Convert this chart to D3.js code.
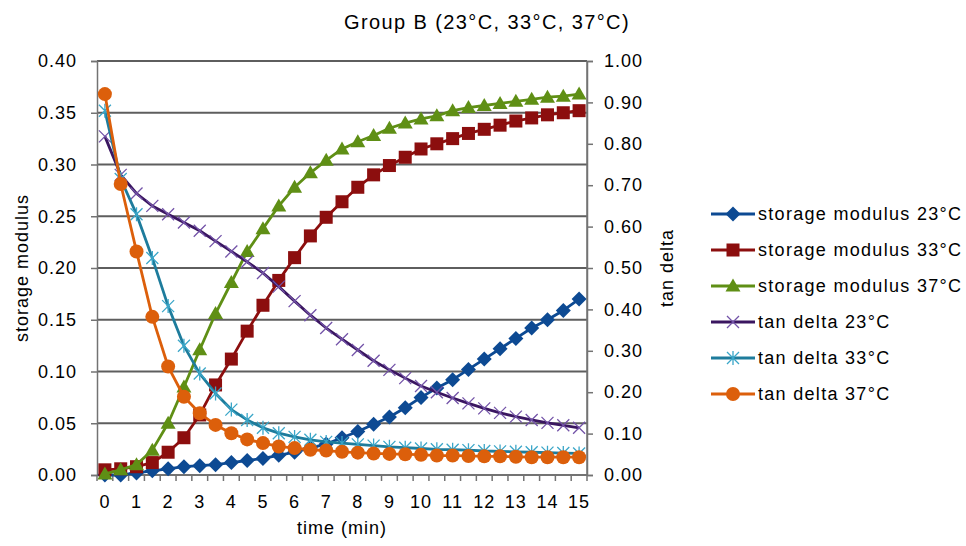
<!DOCTYPE html>
<html>
<head>
<meta charset="utf-8">
<script src="https://cdn.jsdelivr.net/npm/d3@7"></script>
<style>
  body { margin: 0; background: #fff; }
  svg text { font-family: "Liberation Sans", Arial, sans-serif; fill: #000; }
</style>
</head>
<body>
<script>
// time axis: one category every 30 s
const times = [0, 0.5, 1, 1.5, 2, 2.5, 3, 3.5, 4, 4.5, 5, 5.5, 6, 6.5, 7, 7.5,
               8, 8.5, 9, 9.5, 10, 10.5, 11, 11.5, 12, 12.5, 13, 13.5, 14, 14.5, 15];

// storage modulus (left axis)
const sm23 = [0.000, 0.000, 0.002, 0.004, 0.006, 0.008, 0.009, 0.010, 0.012, 0.014, 0.016,
              0.019, 0.022, 0.026, 0.030, 0.036, 0.042, 0.049, 0.056, 0.065, 0.075,
              0.084, 0.092, 0.102, 0.112, 0.122, 0.132, 0.142, 0.150, 0.159, 0.170];
const sm33 = [0.005, 0.006, 0.008, 0.012, 0.022, 0.036, 0.058, 0.087, 0.112, 0.139, 0.164,
              0.188, 0.210, 0.231, 0.249, 0.264, 0.278, 0.290, 0.299, 0.307, 0.315,
              0.320, 0.325, 0.330, 0.334, 0.338, 0.342, 0.345, 0.348, 0.350, 0.352];
const sm37 = [0.001, 0.005, 0.010, 0.024, 0.050, 0.085, 0.121, 0.156, 0.186, 0.216, 0.238,
              0.260, 0.278, 0.292, 0.304, 0.315, 0.322, 0.328, 0.335, 0.340, 0.344,
              0.347, 0.352, 0.355, 0.357, 0.359, 0.361, 0.363, 0.365, 0.366, 0.368];

// tan delta (right axis)
const td23 = [0.818, 0.725, 0.680, 0.650, 0.630, 0.610, 0.590, 0.565, 0.540, 0.515, 0.488,
              0.455, 0.420, 0.386, 0.355, 0.328, 0.302, 0.276, 0.254, 0.234, 0.215,
              0.200, 0.186, 0.173, 0.161, 0.150, 0.141, 0.133, 0.126, 0.120, 0.114];
const td33 = [0.880, 0.715, 0.630, 0.524, 0.408, 0.312, 0.245, 0.197, 0.158, 0.133, 0.114,
              0.101, 0.092, 0.085, 0.080, 0.077, 0.074, 0.071, 0.068, 0.066, 0.064,
              0.062, 0.061, 0.060, 0.058, 0.057, 0.056, 0.055, 0.054, 0.053, 0.052];
const td37 = [0.920, 0.703, 0.540, 0.382, 0.262, 0.189, 0.149, 0.121, 0.101, 0.086, 0.077,
              0.069, 0.065, 0.061, 0.059, 0.056, 0.054, 0.052, 0.051, 0.050, 0.049,
              0.047, 0.047, 0.046, 0.045, 0.045, 0.044, 0.043, 0.043, 0.043, 0.043];

const leftTicks = [0, 0.05, 0.10, 0.15, 0.20, 0.25, 0.30, 0.35, 0.40];
const rightTicks = [0, 0.1, 0.2, 0.3, 0.4, 0.5, 0.6, 0.7, 0.8, 0.9, 1.0];
const xLabels = [0, 1, 2, 3, 4, 5, 6, 7, 8, 9, 10, 11, 12, 13, 14, 15];

const series = [
  {name: "storage modulus 23°C", values: sm23, axis: "left",  line: "#0d4a93", fill: "#0d4a93", marker: "diamond"},
  {name: "storage modulus 33°C", values: sm33, axis: "left",  line: "#8c0e0e", fill: "#8c0e0e", marker: "square"},
  {name: "storage modulus 37°C", values: sm37, axis: "left",  line: "#5f8f15", fill: "#5f8f15", marker: "triangle"},
  {name: "tan delta 23°C",       values: td23, axis: "right", line: "#3a1660", fill: "#7353a8", marker: "x"},
  {name: "tan delta 33°C",       values: td33, axis: "right", line: "#1e7c9c", fill: "#3aa6c8", marker: "star"},
  {name: "tan delta 37°C",       values: td37, axis: "right", line: "#dc5f0b", fill: "#dc5f0b", marker: "circle"}
];

const W = 966, H = 546;
const plot = {left: 97, right: 587, top: 61, bottom: 475};

const svg = d3.select("body").append("svg")
  .attr("width", W).attr("height", H);

// scales
const idx = d3.range(times.length);
const xBand = d3.scaleBand().domain(idx).range([plot.left, plot.right]);
const x = d3.scalePoint().domain(idx).range([plot.left, plot.right]).padding(0.5);
const yL = d3.scaleLinear().domain([0, 0.40]).range([plot.bottom, plot.top]);
const yR = d3.scaleLinear().domain([0, 1.00]).range([plot.bottom, plot.top]);

const gridColor = "#5e5e5e";
const axisColor = "#737373";

// gridlines (left axis)
svg.append("g").selectAll("line").data(leftTicks).join("line")
  .attr("x1", plot.left).attr("x2", plot.right)
  .attr("y1", d => yL(d)).attr("y2", d => yL(d))
  .attr("stroke", gridColor).attr("stroke-width", 1.8);

// right border
svg.append("line")
  .attr("x1", plot.right).attr("x2", plot.right)
  .attr("y1", plot.top).attr("y2", plot.bottom)
  .attr("stroke", axisColor).attr("stroke-width", 1.5);

// left axis
const gL = svg.append("g").attr("transform", `translate(${plot.left},0)`)
  .call(d3.axisLeft(yL).tickValues(leftTicks).tickFormat(d3.format(".2f")).tickSize(6).tickPadding(14));
gL.select(".domain").attr("stroke", axisColor).attr("stroke-width", 1.5);
gL.selectAll(".tick line").attr("stroke", axisColor).attr("stroke-width", 1.5);
gL.selectAll("text").style("font-size", "18px").style("letter-spacing", "1px");

// right axis
const gR = svg.append("g").attr("transform", `translate(${plot.right},0)`)
  .call(d3.axisRight(yR).tickValues(rightTicks).tickFormat(d3.format(".2f")).tickSize(6).tickPadding(11));
gR.select(".domain").attr("stroke", axisColor).attr("stroke-width", 1.5);
gR.selectAll(".tick line").attr("stroke", axisColor).attr("stroke-width", 1.5);
gR.selectAll("text").style("font-size", "18px").style("letter-spacing", "1px");

// bottom axis: tick marks between categories, labels on whole minutes
const gB = svg.append("g");
gB.append("line")
  .attr("x1", plot.left).attr("x2", plot.right)
  .attr("y1", plot.bottom).attr("y2", plot.bottom)
  .attr("stroke", axisColor).attr("stroke-width", 1.8);
const bounds = idx.map(i => xBand(i)).concat([plot.right]);
gB.selectAll(".xt").data(bounds).join("line")
  .attr("x1", d => d).attr("x2", d => d)
  .attr("y1", plot.bottom).attr("y2", plot.bottom + 6)
  .attr("stroke", axisColor).attr("stroke-width", 1.5);
gB.selectAll(".xl").data(xLabels).join("text")
  .attr("x", d => x(times.indexOf(d)))
  .attr("y", plot.bottom + 33)
  .attr("text-anchor", "middle")
  .style("font-size", "18px").style("letter-spacing", "1px")
  .text(d => d);

// titles
svg.append("text").attr("x", 487).attr("y", 29).attr("text-anchor", "middle")
  .style("font-size", "20px").style("letter-spacing", "1.4px")
  .text("Group B (23°C, 33°C, 37°C)");
svg.append("text").attr("x", 342).attr("y", 534).attr("text-anchor", "middle")
  .style("font-size", "18px").style("letter-spacing", "1px")
  .text("time (min)");
svg.append("text").attr("transform", "translate(28,268) rotate(-90)").attr("text-anchor", "middle")
  .style("font-size", "18px").style("letter-spacing", "1px")
  .text("storage modulus");
svg.append("text").attr("transform", "translate(673,268) rotate(-90)").attr("text-anchor", "middle")
  .style("font-size", "18px").style("letter-spacing", "1px")
  .text("tan delta");

// marker drawing
function drawMarker(g, s, cx, cy) {
  if (s.marker === "diamond") {
    g.append("path").attr("d", `M${cx},${cy - 7.5}L${cx + 7.5},${cy}L${cx},${cy + 7.5}L${cx - 7.5},${cy}Z`)
      .attr("fill", s.fill);
  } else if (s.marker === "square") {
    g.append("rect").attr("x", cx - 6.5).attr("y", cy - 6.5).attr("width", 13).attr("height", 13)
      .attr("fill", s.fill);
  } else if (s.marker === "triangle") {
    g.append("path").attr("d", `M${cx},${cy - 7.5}L${cx + 7.5},${cy + 5.5}L${cx - 7.5},${cy + 5.5}Z`)
      .attr("fill", s.fill);
  } else if (s.marker === "circle") {
    g.append("circle").attr("cx", cx).attr("cy", cy).attr("r", 7).attr("fill", s.fill);
  } else if (s.marker === "x") {
    g.append("path").attr("d", `M${cx - 6},${cy - 6}L${cx + 6},${cy + 6}M${cx - 6},${cy + 6}L${cx + 6},${cy - 6}`)
      .attr("stroke", s.fill).attr("stroke-width", 1.3).attr("fill", "none");
  } else if (s.marker === "star") {
    g.append("path").attr("d", `M${cx - 6},${cy - 6}L${cx + 6},${cy + 6}M${cx - 6},${cy + 6}L${cx + 6},${cy - 6}M${cx},${cy - 7}L${cx},${cy + 7}`)
      .attr("stroke", s.fill).attr("stroke-width", 1.3).attr("fill", "none");
  }
}

// series: primary axis first, secondary on top
series.forEach(s => {
  const y = s.axis === "left" ? yL : yR;
  const g = svg.append("g");
  g.append("path")
    .datum(s.values)
    .attr("fill", "none")
    .attr("stroke", s.line)
    .attr("stroke-width", 2.8)
    .attr("stroke-linejoin", "round")
    .attr("d", d3.line().x((d, i) => x(i)).y(d => y(d)));
  s.values.forEach((v, i) => drawMarker(g, s, x(i), y(v)));
});

// legend
const legendY = [214, 250, 286, 322, 358, 394];
series.forEach((s, i) => {
  const g = svg.append("g");
  const ly = legendY[i];
  g.append("line").attr("x1", 711).attr("x2", 755).attr("y1", ly).attr("y2", ly)
    .attr("stroke", s.line).attr("stroke-width", 3);
  drawMarker(g, s, 733, ly);
  g.append("text").attr("x", 758).attr("y", ly + 6)
    .style("font-size", "18px").style("letter-spacing", "1.3px")
    .text(s.name);
});
</script>
</body>
</html>
